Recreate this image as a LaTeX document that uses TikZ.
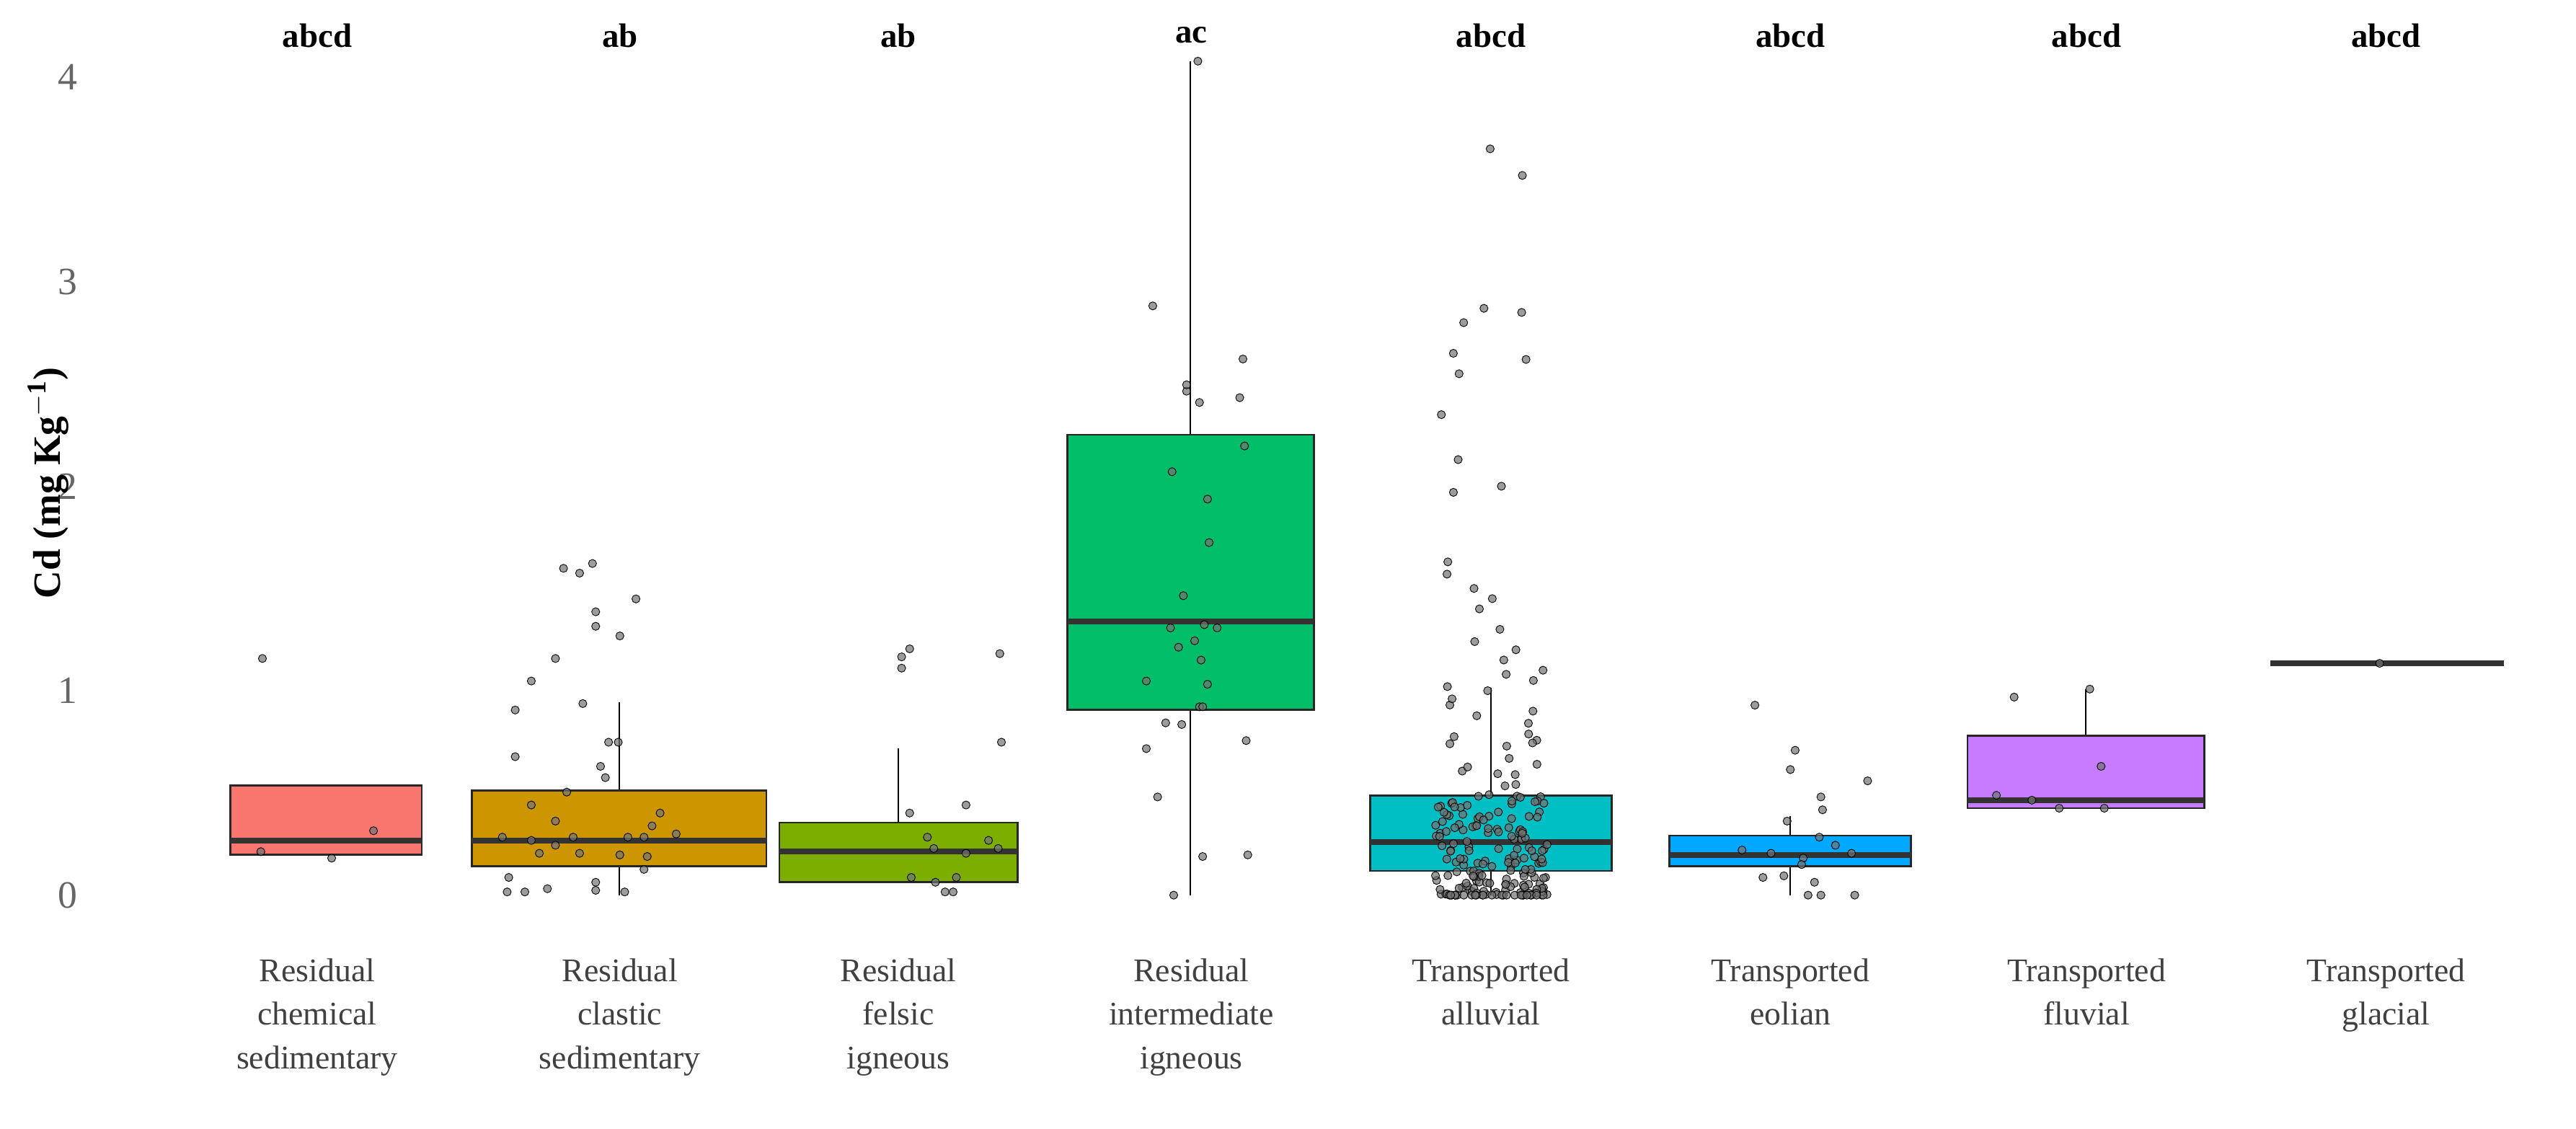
\documentclass[tikz,border=0pt]{standalone}
\usepackage{fontspec}
\setmainfont{Liberation Serif}
\begin{document}
\begin{tikzpicture}[x=1pt,y=-1pt,
  bx/.style={draw=black!85,line width=1.2pt},
  med/.style={line width=3.5pt,draw=black!80},
  wh/.style={line width=0.9pt,draw=black},
  pt/.style={circle,inner sep=0pt,minimum size=5pt,fill=black!55,fill opacity=0.7,draw=black,line width=0.4pt},
  lab/.style={font=\fontsize{20.5}{27}\selectfont,text=black!75,align=center,anchor=north},
  sig/.style={font=\fontsize{21}{24}\selectfont\bfseries},
  tick/.style={font=\fontsize{24}{26}\selectfont,text=black!60}]
\useasboundingbox[fill=white] (0,0) rectangle (1600,701);
\definecolor{c1}{HTML}{F8766D}\definecolor{c2}{HTML}{CD9600}\definecolor{c3}{HTML}{7CAE00}
\definecolor{c4}{HTML}{00BE67}\definecolor{c5}{HTML}{00BFC4}\definecolor{c6}{HTML}{00A9FF}\definecolor{c7}{HTML}{C77CFF}
% y axis
\foreach \v in {0,1,2,3,4} \node[tick] (t\v) at (42,{556-127*\v}) {\v};
\node[rotate=90,font=\fontsize{24}{28}\selectfont\bfseries] (yl) at (30,300) {Cd (mg Kg$^{\mathbf{-1}}$)};
% boxes: x1 x2 q1 q3 med wlo whi (px)
\newcommand{\mybox}[8]{%
  \draw[wh] ({(#1+#2)/2},#6) -- ({(#1+#2)/2},#7);
  \draw[bx,fill=#8] (#1,#3) rectangle (#2,#4);
  \draw[med] (#1,#5) -- (#2,#5);}
\mybox{143}{262}{531}{488}{522}{531}{531}{c1}
\mybox{293}{476}{538}{491}{522}{556}{436}{c2}
\mybox{484}{632}{548}{511}{529}{548}{465}{c3}
\mybox{663}{816}{441}{270}{386}{556}{38}{c4}
\mybox{851}{1001}{541}{494}{523}{556}{427}{c5}
\mybox{1037}{1187}{538}{519}{531}{556}{507}{c6}
\mybox{1222}{1369}{502}{457}{497}{502}{428}{c7}
\draw[med] (1410,412) -- (1555,412);
% points
\foreach \x/\y [count=\i] in {163/409,162/529,232/516,206/533,
 320/441,330/423,345/409,370/548,362/437,350/353,360/356,370/380,385/395,
 370/389,395/372,368/350,373/476,385/531,320/470,312/520,330/500,345/510,
 356/520,335/530,316/545,326/554,315/554,340/552,370/553,388/554,400/540,
 410/505,405/513,420/518,390/520,402/532,360/530,330/522,345/525,352/492,
 384/461,376/483,378/461,400/520,
 560/408,565/403,560/415,621/406,622/461,565/505,600/500,576/520,580/527,
 600/530,614/522,620/527,566/545,581/548,594/545,587/554,592/554,
 744/38,716/190,737/243,737/239,745/250,770/247,772/223,773/277,728/293,
 750/310,751/337,735/370,727/390,748/388,742/398,732/402,756/390,746/410,
 712/423,750/425,745/439,734/450,747/439,712/465,724/449,774/460,719/495,
 747/532,729/556,775/531,
 1090/438,1115/466,1132/503,1120/533,1131/495,1112/478,1160/485,1082/528,
 1100/530,1110/510,1130/520,1140/525,1150/530,1119/537,1127/548,1108/544,
 1123/556,1131/556,1152/556,1095/545,
 1251/433,1298/428,1240/494,1262/497,1279/502,1307/502,1305/476,
 1478/412} \node[pt] (p\i) at (\x,\y) {};
% alluvial group (jittered)
\pgfmathsetseed{7}
\foreach \y [count=\i] in {90,93,96,100,102,105,108,110,115,120,124,130,140,145,150,157,163,197,200,213,235,255,262,265,280,285,287,352,365} {
  \pgfmathsetmacro{\xx}{926+rnd*70-35}
  \pgfmathsetmacro{\yy}{556-1.27*\y}
  \node[pt] (a\i) at (\xx,\yy) {};}
\foreach \i in {1,...,60} {
  \pgfmathsetmacro{\xx}{926+rnd*70-35}
  \pgfmathsetmacro{\yy}{556-127*(rnd^1.6)*0.9}
  \node[pt] (b\i) at (\xx,\yy) {};}
\foreach \i in {1,...,110} {
  \pgfmathsetmacro{\xx}{926+rnd*70-35}
  \pgfmathsetmacro{\yy}{556-127*(rnd^1.3)*0.5}
  \node[pt] (c\i) at (\xx,\yy) {};}
\foreach \i in {1,...,25} {
  \pgfmathsetmacro{\xx}{926+rnd*60-30}
  \node[pt] (d\i) at (\xx,556) {};}
% significance letters
\foreach \x/\s [count=\i] in {197/abcd,385/ab,558/ab,740/ac,926/abcd,1112/abcd,1296/abcd,1482/abcd}
  \node[sig] (s\i) at (\x,22) {\s};
% category labels
\node[lab] (l1) at (197,592) {Residual\\chemical\\sedimentary};
\node[lab] (l2) at (385,592) {Residual\\clastic\\sedimentary};
\node[lab] (l3) at (558,592) {Residual\\felsic\\igneous};
\node[lab] (l4) at (740,592) {Residual\\intermediate\\igneous};
\node[lab] (l5) at (926,592) {Transported\\alluvial};
\node[lab] (l6) at (1112,592) {Transported\\eolian};
\node[lab] (l7) at (1296,592) {Transported\\fluvial};
\node[lab] (l8) at (1482,592) {Transported\\glacial};
\end{tikzpicture}
\end{document}
